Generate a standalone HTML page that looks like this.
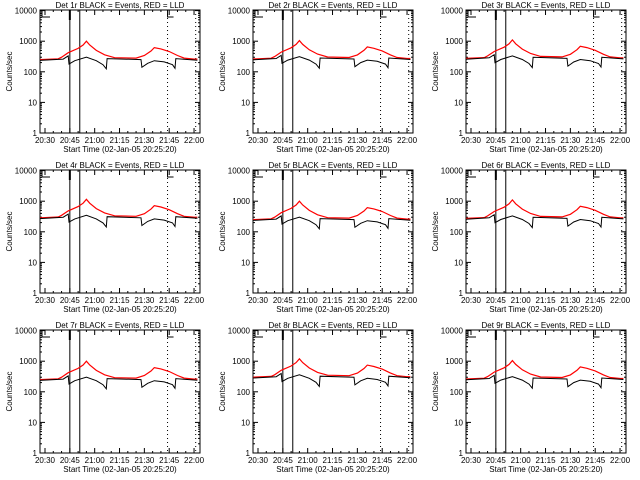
<!DOCTYPE html>
<html><head><meta charset="utf-8"><style>
html,body{margin:0;padding:0;background:#fff;}
svg{display:block;}
text{font-family:"Liberation Sans",sans-serif;font-size:8px;fill:#000;}
</style></head><body>
<svg id="c" width="640" height="480" xmlns="http://www.w3.org/2000/svg"></svg>
<script>
// minutes from 20:30
const redT = [-3,8,10,14,20,23,25,27,31,36,42,55,60,64,66,70,75,80,84,90,92];
const redV = [250,265,300,420,580,750,1000,750,500,360,290,280,340,480,620,560,460,340,280,260,260];
const blkT = [-3,11,14,14.5,18,25,31,35,37,37.5,58,58.5,62,66,72,77,78.5,79,92];
const blkV = [235,260,330,180,230,300,230,170,125,270,250,140,190,230,210,170,130,270,240];
const panelScale = [1,1.05,1.1,1.15,1.0,1.1,1.0,1.2,1.05];
const tickLabels = ["20:30","20:45","21:00","21:15","21:30","21:45","22:00"];
const yTicks = [1,10,100,1000,10000];
const yLabels = ["1","10","100","1000","10000"];
const solidLines = [15,21];
const dotLines = [74,91];

const NS="http://www.w3.org/2000/svg";
const svg=document.getElementById('c');
function el(tag,attrs,parent){const e=document.createElementNS(NS,tag);for(const k in attrs)e.setAttribute(k,attrs[k]);(parent||svg).appendChild(e);return e;}

for(let p=0;p<9;p++){
  const ox=(p%3)*213, oy=Math.floor(p/3)*160;
  const L=ox+40,R=ox+200,T=oy+10,B=oy+133;
  const xs=m=>L+5+m*1.656;
  const ys=v=>B-Math.log10(v)*30.6;
  const g=el('g',{});
  
  
  const box=el('rect',{x:L,y:T,width:R-L,height:B-T,fill:'none',stroke:'#000','stroke-width':1},g);
  
  
  const title=el('text',{x:(L+R)/2,y:oy+8,'text-anchor':'middle'},g);
  title.textContent='Det '+(p+1)+'r BLACK = Events, RED = LLD';
  
  
  yTicks.forEach((v,i)=>{
    const y=ys(v);
    el('line',{x1:L,x2:L+5,y1:y,y2:y,stroke:'#000'},g);
    el('line',{x1:R,x2:R-5,y1:y,y2:y,stroke:'#000'},g);
    const t=el('text',{x:L-3,y:y+3,'text-anchor':'end'},g);
    t.textContent=yLabels[i];
    
    
    if(i<4)for(let k=2;k<10;k++){const yy=ys(v*k);el('line',{x1:L,x2:L+2,y1:yy,y2:yy,stroke:'#000'},g);el('line',{x1:R,x2:R-2,y1:yy,y2:yy,stroke:'#000'},g);}
  });
  const yt=el('text',{x:0,y:0,transform:`translate(${ox+12},${(T+B)/2}) rotate(-90)`,'text-anchor':'middle'},g);
  yt.textContent='Counts/sec';
  
  
  tickLabels.forEach((s,i)=>{
    const x=xs(i*15);
    el('line',{x1:x,x2:x,y1:B,y2:B-5,stroke:'#000'},g);
    el('line',{x1:x,x2:x,y1:T,y2:T+5,stroke:'#000'},g);
    for(let k=1;k<3&&i<6;k++){const xx=xs(i*15+k*5);el('line',{x1:xx,x2:xx,y1:B,y2:B-2,stroke:'#000'},g);el('line',{x1:xx,x2:xx,y1:T,y2:T+2,stroke:'#000'},g);}
    const t=el('text',{x:x,y:B+10,'text-anchor':'middle'},g);
    t.textContent=s;
    
    
  });
  const xt=el('text',{x:(L+R)/2,y:B+19,'text-anchor':'middle'},g);
  xt.textContent='Start Time (02-Jan-05 20:25:20)';
  
  
  solidLines.forEach(m=>{el('line',{x1:xs(m),x2:xs(m),y1:T,y2:B,stroke:'#000'},g);});
  dotLines.forEach(m=>{el('line',{x1:xs(m),x2:xs(m),y1:T,y2:B,stroke:'#000','stroke-dasharray':'1,3'},g);});
  el('rect',{x:xs(15)-1,y:T,width:2,height:10,fill:'#000'},g);
  el('path',{d:`M${L+2},${T} V${T+7} H${L+10}`,fill:'none',stroke:'#000'},g);
  el('path',{d:`M${xs(74)},${T} V${T+7} H${xs(74)+6}`,fill:'none',stroke:'#000'},g);
  const sc=panelScale[p];
  function path(Ts,Vs,f){let d='';Ts.forEach((t,i)=>{d+=(i?'L':'M')+xs(t).toFixed(1)+','+ys(Vs[i]*f).toFixed(1);});return d;}
  const red=el('path',{d:path(redT,redV,sc),fill:'none',stroke:'#ff0000','stroke-width':1.2},g);
  
  
  const blk=el('path',{d:path(blkT,blkV,sc),fill:'none',stroke:'#000','stroke-width':1},g);
  
  
}
</script>
</body></html>
